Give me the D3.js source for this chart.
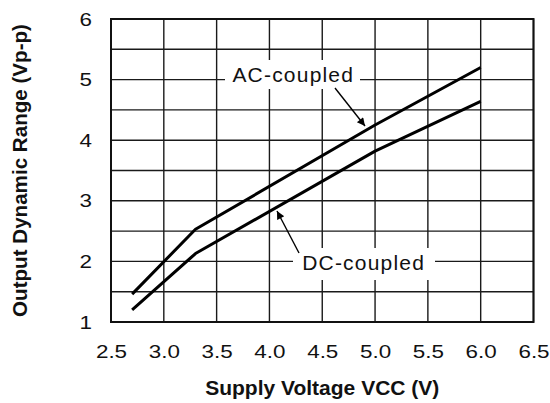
<!DOCTYPE html>
<html>
<head>
<meta charset="utf-8">
<script src="https://cdn.jsdelivr.net/npm/d3@7"></script>
<style>
  html, body { margin: 0; padding: 0; background: #fff; }
  svg { display: block; font-family: "Liberation Sans", Arial, Helvetica, sans-serif; }
</style>
</head>
<body>
<svg id="chart" width="550" height="403"></svg>
<script>
// Supply voltage (V) sample points for each coupling mode
const acVcc = [2.7, 3.3, 5.0, 6.0];
const acRange = [1.46, 2.53, 4.25, 5.2];
const dcVcc = [2.7, 3.3, 5.0, 6.0];
const dcRange = [1.2, 2.13, 3.82, 4.64];

const xTicks = [2.5, 3.0, 3.5, 4.0, 4.5, 5.0, 5.5, 6.0, 6.5];
const yTicks = [1, 2, 3, 4, 5, 6];
const yGrid = [1, 1.5, 2, 2.5, 3, 3.5, 4, 4.5, 5, 5.5, 6];

const seriesNames = ["AC-coupled", "DC-coupled"];
const xTitle = "Supply Voltage VCC (V)";
const yTitle = "Output Dynamic Range (Vp-p)";

const svg = d3.select("#chart");
const margin = { left: 111, right: 16.5, top: 19, bottom: 81 };
const W = 550, H = 403;

const x = d3.scaleLinear().domain([2.5, 6.5]).range([margin.left, W - margin.right]);
const y = d3.scaleLinear().domain([1, 6]).range([H - margin.bottom, margin.top]);

// grid
const grid = svg.append("g").attr("stroke", "#1a1a1a").attr("stroke-width", 1.4);
grid.selectAll("line.v").data(xTicks).join("line")
  .attr("x1", d => x(d)).attr("x2", d => x(d))
  .attr("y1", y(1)).attr("y2", y(6));
grid.selectAll("line.h").data(yGrid).join("line")
  .attr("y1", d => y(d)).attr("y2", d => y(d))
  .attr("x1", x(2.5)).attr("x2", x(6.5));

// plot frame
svg.append("rect")
  .attr("x", x(2.5)).attr("y", y(6))
  .attr("width", x(6.5) - x(2.5)).attr("height", y(1) - y(6))
  .attr("fill", "none").attr("stroke", "#111").attr("stroke-width", 2);

// axes (labels only, no tick marks); tick text is drawn slightly wide
const xAxis = d3.axisBottom(x).tickValues(xTicks).tickFormat(d3.format(".1f")).tickSize(0).tickPadding(0);
svg.append("g").attr("transform", `translate(0,${y(1)})`).call(xAxis)
  .call(g => g.select(".domain").remove())
  .call(g => g.selectAll("text")
    .attr("font-size", 19).attr("fill", "#111")
    .attr("font-family", "Liberation Sans, Arial, sans-serif")
    .attr("y", 0).attr("dy", null)
    .attr("transform", "translate(0,35.5) scale(1.18,1)"));

const yAxis = d3.axisLeft(y).tickValues(yTicks).tickFormat(d3.format("d")).tickSize(0).tickPadding(0);
svg.append("g").attr("transform", `translate(${x(2.5)},0)`).call(yAxis)
  .call(g => g.select(".domain").remove())
  .call(g => g.selectAll("text")
    .attr("font-size", 19).attr("fill", "#111")
    .attr("font-family", "Liberation Sans, Arial, sans-serif")
    .attr("x", 0)
    .attr("transform", "translate(-19,0) scale(1.18,1)"));

// curves
const line = d3.line().x(d => x(d[0])).y(d => y(d[1]));
const acData = acVcc.map((v, i) => [v, acRange[i]]);
const dcData = dcVcc.map((v, i) => [v, dcRange[i]]);
svg.append("g").attr("fill", "none").attr("stroke", "#000").attr("stroke-width", 3)
  .attr("stroke-linejoin", "round")
  .selectAll("path").data([acData, dcData]).join("path").attr("d", line);

// arrowhead marker
svg.append("defs").append("marker")
  .attr("id", "arrow").attr("viewBox", "0 0 10 10")
  .attr("refX", 10).attr("refY", 5)
  .attr("markerWidth", 12).attr("markerHeight", 8)
  .attr("markerUnits", "userSpaceOnUse")
  .attr("orient", "auto")
  .append("path").attr("d", "M0,0 L10,5 L0,10 Z").attr("fill", "#000");

// callout labels with white knockout behind them
const callouts = [
  { text: seriesNames[0], cx: 4.22, cy: 5.09, box: [225, 60, 135, 29], arrow: [[335, 88], [365, 126]] },
  { text: seriesNames[1], cx: 4.886, cy: 1.98, box: [293, 248, 142, 32], arrow: [[299, 253], [277, 211]] }
];
callouts.forEach(c => {
  svg.append("rect")
    .attr("x", c.box[0]).attr("y", c.box[1]).attr("width", c.box[2]).attr("height", c.box[3])
    .attr("fill", "#fff");
  svg.append("text")
    .attr("x", x(c.cx) + 0.6).attr("y", y(c.cy))
    .attr("text-anchor", "middle").attr("dominant-baseline", "central")
    .attr("font-size", 21).attr("letter-spacing", 1.2).attr("fill", "#111")
    .text(c.text);
  svg.append("line")
    .attr("x1", c.arrow[0][0]).attr("y1", c.arrow[0][1])
    .attr("x2", c.arrow[1][0]).attr("y2", c.arrow[1][1])
    .attr("stroke", "#000").attr("stroke-width", 1.4)
    .attr("marker-end", "url(#arrow)");
});

// axis titles
svg.append("text")
  .attr("x", (x(2.5) + x(6.5)) / 2).attr("y", 395)
  .attr("text-anchor", "middle").attr("font-weight", "bold").attr("font-size", 21).attr("fill", "#111")
  .text(xTitle);
svg.append("text")
  .attr("transform", `translate(27,${(y(1) + y(6)) / 2}) rotate(-90)`)
  .attr("text-anchor", "middle").attr("font-weight", "bold").attr("font-size", 20.6).attr("fill", "#111")
  .text(yTitle);
</script>
</body>
</html>
